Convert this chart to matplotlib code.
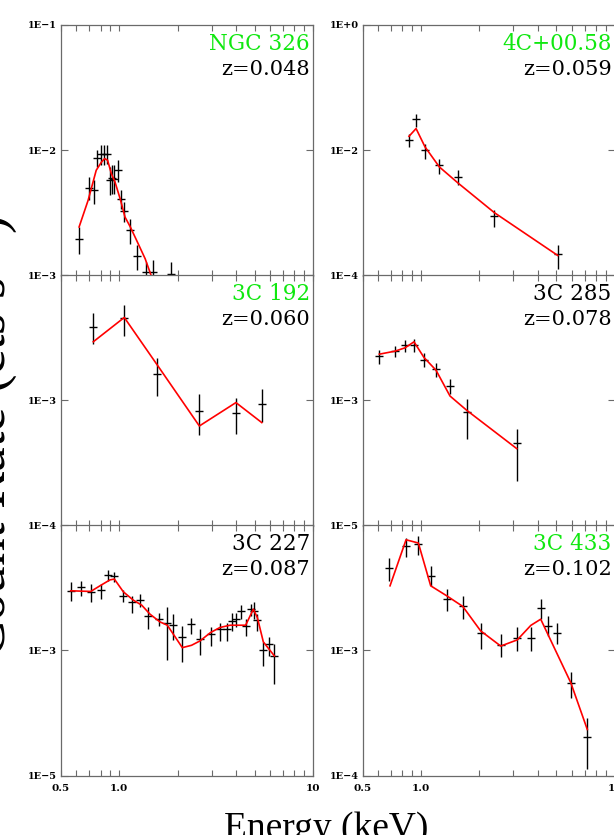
import numpy as np
import matplotlib
matplotlib.use("Agg")
import matplotlib.pyplot as plt
from matplotlib.ticker import FixedLocator, NullLocator, NullFormatter

plt.rcParams['font.family'] = ['DejaVu Serif']
plt.rcParams['mathtext.fontset'] = 'custom'
plt.rcParams['mathtext.rm'] = 'Liberation Serif'

# ---- NGC 326 ----
ngc326_e = [0.62, 0.70, 0.74, 0.77, 0.80, 0.83, 0.86, 0.90, 0.92, 0.94, 0.98, 1.02, 1.06, 1.14, 1.23, 1.37, 1.50, 1.85]
ngc326_rate = [1.94e-3, 5.03e-3, 4.79e-3, 8.73e-3, 9.4e-3, 9.4e-3, 9.4e-3, 5.75e-3, 6.01e-3, 5.86e-3, 6.92e-3,
               4.06e-3, 3.25e-3, 2.29e-3, 1.43e-3, 1.06e-3, 1.06e-3, 1.03e-3]
ngc326_lo = [1.49e-3, 3.98e-3, 3.74e-3, 7.36e-3, 7.59e-3, 7.6e-3, 7.82e-3, 4.37e-3, 4.5e-3, 4.5e-3, 5.58e-3,
             3.41e-3, 2.67e-3, 1.79e-3, 1.1e-3, 9.0e-4, 9.0e-4, 9.0e-4]
ngc326_hi = [2.44e-3, 6.12e-3, 5.75e-3, 1.0e-2, 1.1e-2, 1.1e-2, 1.1e-2, 7.36e-3, 7.59e-3, 7.6e-3, 8.32e-3,
             4.79e-3, 3.86e-3, 2.84e-3, 1.74e-3, 1.28e-3, 1.32e-3, 1.28e-3]
ngc326_model_e = [0.62, 0.69, 0.76, 0.81, 0.84, 0.87, 0.91, 0.95, 1.01, 1.07, 1.14, 1.23, 1.36, 1.46]
ngc326_model = [2.44e-3, 3.98e-3, 6.92e-3, 8.07e-3, 8.58e-3, 8.32e-3, 6.5e-3, 5.58e-3, 4.1e-3, 2.93e-3,
                2.44e-3, 1.9e-3, 1.36e-3, 1.0e-3]

# ---- 4C+00.58 ----
c4_e = [0.867, 0.943, 1.049, 1.244, 1.552, 2.39, 5.08]
c4_rate = [1.45e-2, 3.1e-2, 1.0e-2, 5.75e-3, 3.74e-3, 8.9e-4, 2.17e-4]
c4_lo = [1.13e-2, 2.36e-2, 7.36e-3, 4.24e-3, 2.75e-3, 5.93e-4, 1.28e-4]
c4_hi = [1.85e-2, 3.86e-2, 1.28e-2, 7.36e-3, 4.79e-3, 1.1e-3, 3.02e-4]
c4_model_e = [0.867, 0.943, 1.049, 1.244, 1.552, 2.39, 5.08]
c4_model = [1.67e-2, 2.22e-2, 1.13e-2, 5.41e-3, 3.0e-3, 1.01e-3, 2.09e-4]

# ---- 3C 192 ----
c192_e = [0.734, 1.061, 1.571, 2.59, 4.0, 5.44]
c192_rate = [3.86e-3, 4.56e-3, 1.61e-3, 8.17e-4, 7.97e-4, 9.4e-4]
c192_lo = [2.81e-3, 3.27e-3, 1.08e-3, 5.25e-4, 5.41e-4, 6.71e-4]
c192_hi = [4.94e-3, 5.75e-3, 2.16e-3, 1.12e-3, 1.05e-3, 1.22e-3]
c192_model_e = [0.734, 1.061, 1.571, 2.59, 4.0, 5.44]
c192_model = [2.93e-3, 4.58e-3, 1.91e-3, 6.23e-4, 9.58e-4, 6.63e-4]

# ---- 3C 285 ----
c285_e = [0.609, 0.734, 0.827, 0.92, 1.036, 1.195, 1.411, 1.721, 3.12]
c285_rate = [5.12e-3, 6.08e-3, 7.5e-3, 7.59e-3, 4.37e-3, 3.13e-3, 1.69e-3, 6.5e-4, 2.07e-4]
c285_lo = [3.77e-3, 4.82e-3, 5.93e-3, 5.93e-3, 3.41e-3, 2.36e-3, 1.25e-3, 2.44e-4, 5.12e-5]
c285_hi = [6.31e-3, 7.31e-3, 9.12e-3, 9.35e-3, 5.58e-3, 3.95e-3, 2.22e-3, 1.06e-3, 3.52e-4]
c285_model_e = [0.609, 0.734, 0.827, 0.92, 1.036, 1.195, 1.411, 1.721, 3.12]
c285_model = [5.44e-3, 6.08e-3, 6.87e-3, 8.57e-3, 4.82e-3, 3.02e-3, 1.17e-3, 6.92e-4, 1.69e-4]

# ---- 3C 227 ----
c227_e = [0.561, 0.634, 0.714, 0.804, 0.878, 0.943, 1.041, 1.167, 1.279, 1.412, 1.61, 1.77, 1.90, 2.115,
          2.345, 2.61, 2.96, 3.31, 3.58, 3.83, 4.0, 4.23, 4.49, 4.77, 4.96, 5.16, 5.50, 5.95, 6.32]
c227_rate = [8.9e-3, 1.007e-2, 8.38e-3, 9.12e-3, 1.58e-2, 1.51e-2, 7.4e-3, 5.8e-3, 6.31e-3, 3.54e-3, 3.13e-3,
             2.7e-3, 2.51e-3, 1.6e-3, 2.61e-3, 1.5e-3, 1.8e-3, 2.17e-3, 2.22e-3, 2.94e-3, 3.13e-3, 4.26e-3,
             2.45e-3, 4.53e-3, 4.26e-3, 3.02e-3, 1.0e-3, 1.28e-3, 8.11e-4]
c227_lo = [6.15e-3, 7.4e-3, 5.8e-3, 6.55e-3, 1.29e-2, 1.21e-2, 5.8e-3, 3.91e-3, 4.82e-3, 2.22e-3, 2.45e-3,
           7.0e-4, 1.46e-3, 6.5e-4, 1.8e-3, 8.32e-4, 1.17e-3, 1.41e-3, 1.41e-3, 2.04e-3, 2.31e-3, 3.21e-3,
           1.66e-3, 3.54e-3, 3.21e-3, 2.04e-3, 5.61e-4, 8.11e-4, 2.86e-4]
c227_hi = [1.21e-2, 1.29e-2, 1.14e-2, 1.14e-2, 1.93e-2, 1.79e-2, 9.23e-3, 7.4e-3, 7.87e-3, 4.82e-3, 3.91e-3,
           4.82e-3, 3.77e-3, 2.45e-3, 3.33e-3, 2.17e-3, 2.31e-3, 2.77e-3, 2.77e-3, 3.91e-3, 3.91e-3, 5.25e-3,
           3.13e-3, 5.44e-3, 5.8e-3, 3.77e-3, 1.36e-3, 1.6e-3, 1.25e-3]
c227_model_e = [0.561, 0.712, 0.795, 0.895, 0.943, 1.049, 1.181, 1.305, 1.44, 1.62, 1.77, 2.115, 2.36, 2.61,
                2.96, 3.31, 3.73, 4.04, 4.49, 4.92, 5.16, 5.54, 6.32]
c227_model = [8.9e-3, 8.69e-3, 1.07e-2, 1.33e-2, 1.37e-2, 8.57e-3, 6.31e-3, 5.25e-3, 3.77e-3, 2.84e-3, 2.51e-3,
              1.1e-3, 1.2e-3, 1.41e-3, 1.92e-3, 2.31e-3, 2.51e-3, 2.51e-3, 2.51e-3, 4.53e-3, 3.33e-3, 1.36e-3,
              8.11e-4]

# ---- 3C 433 ----
c433_e = [0.687, 0.837, 0.969, 1.122, 1.358, 1.642, 2.03, 2.58, 3.14, 3.69, 4.15, 4.54, 5.05, 5.93, 7.22]
c433_rate = [4.53e-3, 6.75e-3, 7.05e-3, 3.93e-3, 2.56e-3, 2.24e-3, 1.37e-3, 1.1e-3, 1.26e-3, 1.26e-3, 2.16e-3,
             1.57e-3, 1.38e-3, 5.45e-4, 2.03e-4]
c433_lo = [3.58e-3, 5.51e-3, 5.75e-3, 3.27e-3, 2.06e-3, 1.77e-3, 1.03e-3, 8.9e-4, 9.9e-4, 9.9e-4, 1.79e-3,
           1.3e-3, 1.12e-3, 4.18e-4, 1.12e-4]
c433_hi = [5.41e-3, 7.82e-3, 8.22e-3, 4.72e-3, 3.08e-3, 2.72e-3, 1.66e-3, 1.34e-3, 1.52e-3, 1.52e-3, 2.56e-3,
           1.88e-3, 1.66e-3, 6.71e-4, 2.89e-4]
c433_model_e = [0.692, 0.837, 0.969, 1.122, 1.358, 1.642, 2.03, 2.58, 3.14, 3.69, 4.15, 5.93, 7.22]
c433_model = [3.27e-3, 7.62e-3, 7.18e-3, 3.27e-3, 2.72e-3, 2.24e-3, 1.43e-3, 1.08e-3, 1.21e-3, 1.58e-3,
              1.77e-3, 5.52e-4, 2.33e-4]

names = ['NGC 326', '4C+00.58', '3C 192', '3C 285', '3C 227', '3C 433']
redshifts = ['z=0.048', 'z=0.059', 'z=0.060', 'z=0.078', 'z=0.087', 'z=0.102']
name_green = [True, True, True, False, False, True]
ylims = [(1e-3, 1e-1), (1e-4, 1e0), (1e-4, 1e-2), (1e-5, 1e-1), (1e-5, 1e-1), (1e-4, 1e-2)]
yticks = [[1e-3, 1e-2, 1e-1], [1e-4, 1e-2, 1e0], [1e-4, 1e-3, 1e-2], [1e-5, 1e-3, 1e-1],
          [1e-5, 1e-3, 1e-1], [1e-4, 1e-3, 1e-2]]
ytick_labels = [['1E\u22123', '1E\u22122', '1E\u22121'], ['1E\u22124', '1E\u22122', '1E+0'],
                ['1E\u22124', '1E\u22123', ''], ['1E\u22125', '1E\u22123', ''],
                ['1E\u22125', '1E\u22123', ''], ['1E\u22124', '1E\u22123', '']]
xticks = [0.5, 1.0, 10]
xtick_labels = ['0.5', '1.0', '10']
xminor = [0.6, 0.7, 0.8, 0.9, 2, 3, 4, 5, 6, 7, 8, 9]

panels = [
    (ngc326_e, ngc326_rate, ngc326_lo, ngc326_hi, ngc326_model_e, ngc326_model),
    (c4_e, c4_rate, c4_lo, c4_hi, c4_model_e, c4_model),
    (c192_e, c192_rate, c192_lo, c192_hi, c192_model_e, c192_model),
    (c285_e, c285_rate, c285_lo, c285_hi, c285_model_e, c285_model),
    (c227_e, c227_rate, c227_lo, c227_hi, c227_model_e, c227_model),
    (c433_e, c433_rate, c433_lo, c433_hi, c433_model_e, c433_model),
]

W, H = 614, 835
fig = plt.figure(figsize=(W / 100, H / 100), dpi=100)

col_left = [61, 362.7]
row_top = [25, 275, 525]
pw, ph = 252, 250.5
spine_col = '#6a6a6a'

for i, (e, rate, lo, hi, me, mr) in enumerate(panels):
    r, c = divmod(i, 2)
    left = col_left[c] / W
    bottom = 1 - (row_top[r] + ph) / H
    ax = fig.add_axes([left, bottom, pw / W, ph / H])
    ax.set_xscale('log')
    ax.set_yscale('log')
    ax.set_xlim(0.5, 10)
    ax.set_ylim(*ylims[i])

    rate = np.array(rate)
    yerr = [rate - np.array(lo), np.array(hi) - rate]
    ax.errorbar(e, rate, yerr=yerr, fmt='_', color='black', ecolor='black',
                elinewidth=1.0, markersize=5.5, markeredgewidth=1.0, capsize=0, zorder=2)
    ax.plot(me, mr, color='#ff0000', lw=1.2, zorder=3)

    for s in ax.spines.values():
        s.set_color(spine_col)
        s.set_linewidth(0.9)

    ax.xaxis.set_major_locator(FixedLocator(xticks))
    ax.xaxis.set_minor_locator(FixedLocator(xminor))
    ax.xaxis.set_minor_formatter(NullFormatter())
    if r == 2:
        ax.set_xticklabels(xtick_labels)
    else:
        ax.set_xticklabels([])
    ax.tick_params(axis='x', which='both', direction='in', top=True, bottom=True,
                   length=4, width=0.8, color=spine_col, pad=6,
                   labelsize=7.5, labelcolor='black')

    ax.yaxis.set_major_locator(FixedLocator(yticks[i]))
    ax.yaxis.set_minor_locator(NullLocator())
    ax.set_yticklabels(ytick_labels[i])
    ax.tick_params(axis='y', which='both', direction='in', left=True, right=True,
                   length=5, width=0.8, color=spine_col, pad=3,
                   labelsize=7, labelcolor='black')
    for lab in ax.get_xticklabels() + ax.get_yticklabels():
        lab.set_fontweight('bold')

    ax.text(0.988, 0.90, names[i], transform=ax.transAxes, ha='right', va='baseline',
            fontsize=15.5, color='#10e810' if name_green[i] else 'black')
    ax.text(0.988, 0.80, redshifts[i], transform=ax.transAxes, ha='right', va='baseline',
            fontsize=15, color='black')

fig.text(6 / W, 1 - 437 / H, r'Count Rate (cts s$^{-1}$)', rotation=90, rotation_mode='anchor',
         ha='center', va='baseline', fontsize=40, family='Liberation Serif')
fig.text(326 / W, -3 / H, 'Energy (keV)', ha='center', va='baseline', fontsize=27,
         family='Liberation Serif')

fig.savefig('out.png', dpi=100)
